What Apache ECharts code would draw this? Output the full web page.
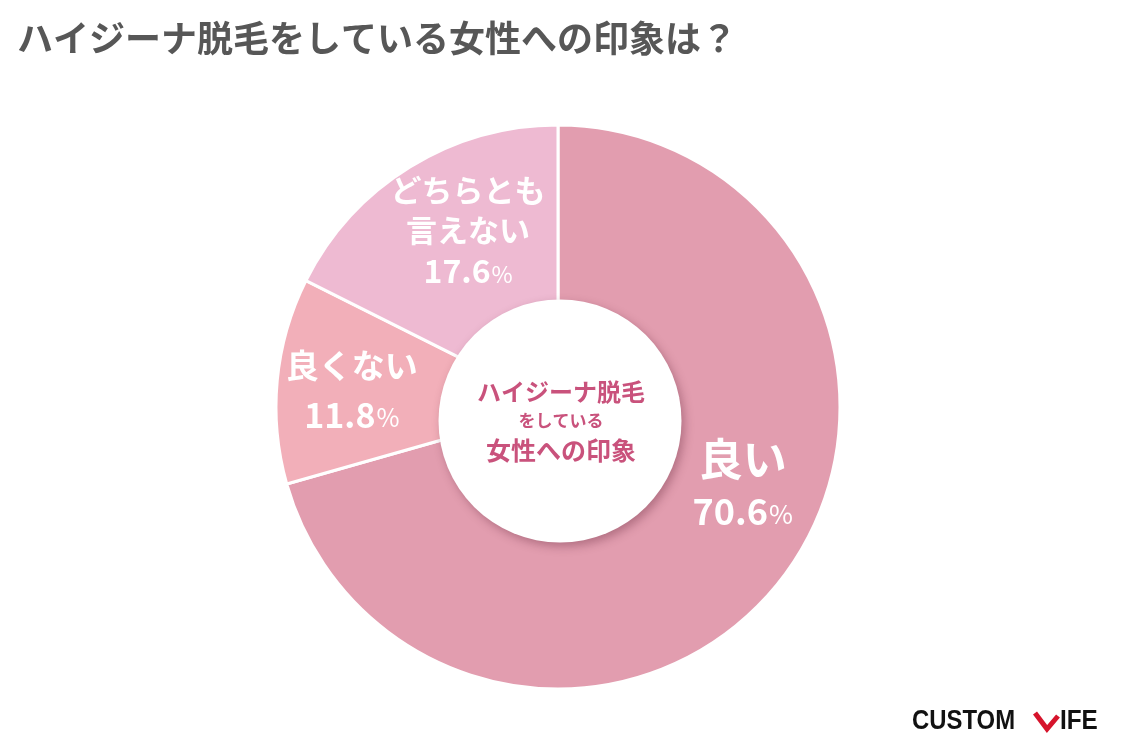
<!DOCTYPE html>
<html>
<head>
<meta charset="utf-8">
<script src="https://cdn.jsdelivr.net/npm/echarts@6/dist/echarts.min.js"></script>
<style>
html,body{margin:0;padding:0;background:#fff;}
#c{width:1125px;height:752px;}
</style>
</head>
<body>
<div id="c"></div>
<script>
const titleText = 'ハイジーナ脱毛をしている女性への印象は？';
const categories = ['良い', '良くない', 'どちらとも言えない'];
const labelLines = [['良い'], ['良くない'], ['どちらとも', '言えない']];
const values = [70.6, 11.8, 17.6];
const colors = ['#E29DAF', '#F2AFB9', '#EEBAD2'];
const centerLines = ['ハイジーナ脱毛', 'をしている', '女性への印象'];
const labelShift = [[30, -40], [-13, 2], [12, -11]];

const FONT = '"Noto Sans CJK JP", "Noto Sans", sans-serif';

const nameSize = [44, 33, 31];
const numSize = [36, 34, 32];
const pctSize = [26, 25, 23];

const chart = echarts.init(document.getElementById('c'), null, {renderer: 'canvas'});

const data = categories.map((c, i) => ({
  name: c,
  value: values[i],
  itemStyle: {color: colors[i]},
  label: {
    formatter: labelLines[i].map(t => '{n|' + t + '}').join('\n') + '\n{v|' + values[i].toFixed(1) + '}{p|%}',
    rich: {
      n: {fontSize: nameSize[i], fontWeight: 'bold', color: '#fff', fontFamily: FONT, lineHeight: i === 0 ? 54 : (i === 1 ? 48 : 40), align: 'center'},
      v: {fontSize: numSize[i], fontWeight: 'bold', color: '#fff', fontFamily: FONT, lineHeight: i === 2 ? 42 : 50, letterSpacing: 3},
      p: {fontSize: pctSize[i], fontWeight: 'normal', color: '#fff', fontFamily: FONT, lineHeight: i === 2 ? 42 : 50, padding: [6, 0, 0, 1]}
    }
  }
}));

chart.setOption({
  animation: false,
  backgroundColor: '#fff',
  title: {
    text: titleText,
    left: 12,
    top: 15,
    textStyle: {fontSize: 36, fontWeight: 'bold', color: '#575757', fontFamily: FONT}
  },
  series: [{
    type: 'pie',
    center: [558, 407],
    radius: [100, 282],
    startAngle: 90,
    clockwise: true,
    silent: true,
    itemStyle: {borderColor: '#fff', borderWidth: 3},
    label: {show: true, position: 'inside', align: 'center'},
    labelLine: {show: false},
    labelLayout: function (p) {
      return {dx: labelShift[p.dataIndex][0], dy: labelShift[p.dataIndex][1]};
    },
    emphasis: {disabled: true},
    data: data,
    z: 2
  }],
  graphic: [
    {
      type: 'circle',
      shape: {cx: 560, cy: 421, r: 121.5},
      style: {fill: '#fff', shadowColor: 'rgba(90,30,50,0.35)', shadowBlur: 10, shadowOffsetX: 3, shadowOffsetY: 4},
      z: 10, silent: true
    },
    {
      type: 'text',
      x: 561, y: 421,
      style: {
        text: '{a|' + centerLines[0] + '}\n{b|' + centerLines[1] + '}\n{c|' + centerLines[2] + '}',
        align: 'center', verticalAlign: 'middle',
        rich: {
          a: {fontSize: 24, fontWeight: 'bold', fill: '#C9527C', fontFamily: FONT, lineHeight: 29, align: 'center'},
          b: {fontSize: 17, fontWeight: 'bold', fill: '#C9527C', fontFamily: FONT, lineHeight: 29, align: 'center'},
          c: {fontSize: 25, fontWeight: 'bold', fill: '#C9527C', fontFamily: FONT, lineHeight: 29, align: 'center'}
        }
      },
      z: 11, silent: true
    },
    {
      type: 'text',
      x: 912, y: 722, scaleX: 0.885,
      style: {text: 'CUSTOM', fontSize: 27, fontWeight: 'bold', fill: '#111', fontFamily: '"Liberation Sans", sans-serif', verticalAlign: 'middle', align: 'left'},
      z: 11, silent: true
    },
    {
      type: 'polyline',
      shape: {points: [[1035, 713], [1047, 729], [1058, 716]]},
      style: {stroke: '#D6142C', lineWidth: 5, fill: null, lineJoin: 'miter'},
      z: 11, silent: true
    },
    {
      type: 'text',
      x: 1060, y: 722, scaleX: 0.9,
      style: {text: 'IFE', fontSize: 27, fontWeight: 'bold', fill: '#111', fontFamily: '"Liberation Sans", sans-serif', verticalAlign: 'middle', align: 'left'},
      z: 11, silent: true
    }
  ]
});
</script>
</body>
</html>
